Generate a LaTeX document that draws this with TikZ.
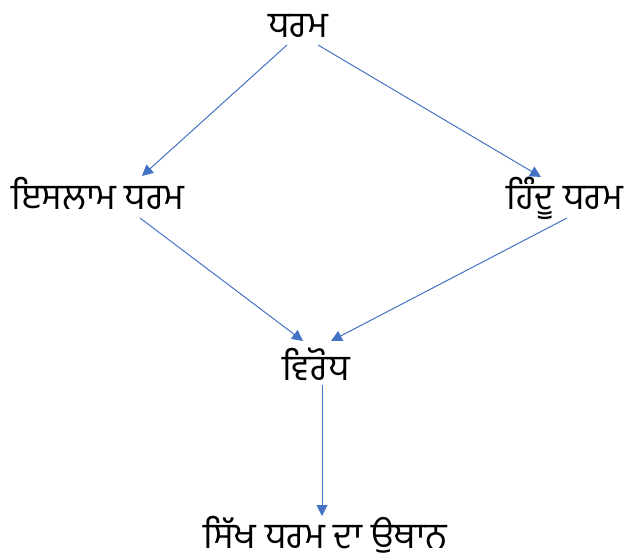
\documentclass[tikz,border=0pt]{standalone}
\usepackage{fontspec}
\newfontfamily\gurfont[Script=Gurmukhi]{Hind Jalandhar}
\usetikzlibrary{arrows.meta}
\definecolor{arrblue}{HTML}{4472C4}
\begin{document}
\begin{tikzpicture}[x=1pt,y=-1pt,
  lbl/.style={font=\gurfont\fontsize{36}{40}\selectfont, inner sep=0pt, anchor=base},
  arr/.style={draw=arrblue, line width=1pt, -{Triangle[length=11pt,width=11pt]}}]
\useasboundingbox (0,0) rectangle (631,559);
\node[lbl] (dharam) at (298,38) {ਧਰਮ};
\node[lbl] (islam) at (98,209) {ਇਸਲਾਮ ਧਰਮ};
\node[lbl] (hindu) at (565,209) {ਹਿੰਦੂ ਧਰਮ};
\node[lbl] (virodh) at (316,380) {ਵਿਰੋਧ};
\node[lbl] (sikh) at (325,548) {ਸਿੱਖ ਧਰਮ ਦਾ ਉਥਾਨ};
\coordinate (a1s) at (287,45); \coordinate (a1e) at (142,176);
\coordinate (a2s) at (318,45); \coordinate (a2e) at (541,177);
\coordinate (a3s) at (140,218); \coordinate (a3e) at (303,341);
\coordinate (a4s) at (567,218); \coordinate (a4e) at (331,341);
\coordinate (a5s) at (322,385); \coordinate (a5e) at (322,516);
\draw[arr] (a1s) -- (a1e);
\draw[arr] (a2s) -- (a2e);
\draw[arr] (a3s) -- (a3e);
\draw[arr] (a4s) -- (a4e);
\draw[arr] (a5s) -- (a5e);
\end{tikzpicture}
\end{document}
